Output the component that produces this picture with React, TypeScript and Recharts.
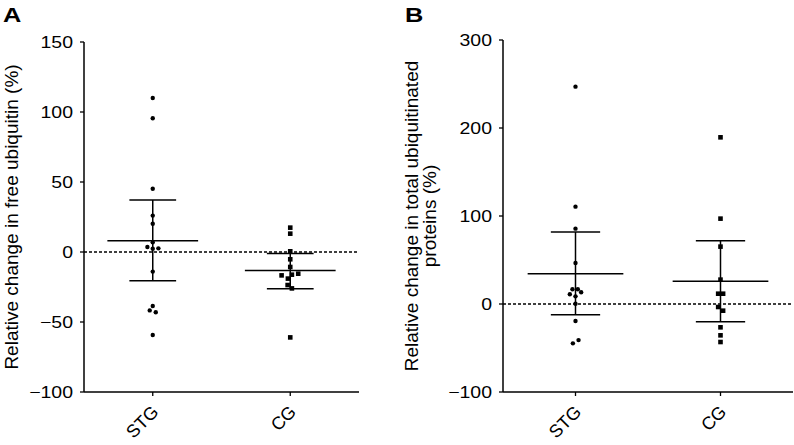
import React from 'react';
import { ScatterChart, Scatter, XAxis, YAxis, ReferenceLine, Label } from 'recharts';

const categories = ['STG', 'CG'];

// Panel A: relative change in free ubiquitin (%)
const freeUbSTG = [110, 95.5, 45.2, 26, 20.2, 6.9, 3.6, 2.4, 2.6, -14, -38.6, -41.7, -43, -59.3];
const freeUbSTGJitter = [0, 0, 0, 0, 0, 0, -0.039, 0, 0.041, 0, 0, -0.022, 0.022, 0];
const freeUbCG = [17.4, 13.1, 0.5, -5.2, -10.7, -16.7, -16.2, -15.5, -19, -23.6, -26, -61];
const freeUbCGJitter = [0, 0, 0, 0, 0, -0.063, 0.012, 0.058, -0.017, -0.019, 0.012, 0];
const freeUbMean = [8.1, -13.3];
const freeUbLow = [-20.5, -26.2];
const freeUbHigh = [37.1, -1];
const freeUbTicks = [-100, -50, 0, 50, 100, 150];

// Panel B: relative change in total ubiquitinated proteins (%)
const totalUbSTG = [247, 110.6, 85.6, 46.6, 16.7, 16.7, 13.3, 11, 8.7, 0.3, -19.3, -41, -44.7];
const totalUbSTGJitter = [0, 0, 0, 0, -0.021, 0.016, 0.039, -0.039, 0, 0, 0, 0.021, -0.018];
const totalUbCG = [189.4, 97, 65.2, 27.7, 11.7, 11.7, -3.4, -7.6, -26.5, -35.6, -43.2];
const totalUbCGJitter = [0, 0, 0, 0, -0.016, 0.018, -0.016, 0.018, 0, 0, 0];
const totalUbMean = [34.4, 25.8];
const totalUbLow = [-12.1, -20.1];
const totalUbHigh = [81.8, 72];
const totalUbTicks = [-100, 0, 100, 200, 300];

const FONT = '"Liberation Sans", Arial, Helvetica, sans-serif';
const INK = '#000';

const toPoints = (vals: number[], jit: number[], cat: number) =>
  vals.map((v, i) => ({ x: cat + 1 + jit[i], y: v }));

const DotShape = (p: any) => <circle cx={p.cx} cy={p.cy} r={2.2} fill={INK} />;
const SquareShape = (p: any) => (
  <rect x={p.cx - 2.3} y={p.cy - 2.3} width={4.6} height={4.6} fill={INK} />
);

const XTick = (p: any) => {
  const { x, y, payload } = p;
  const ax = x + 7;
  const ay = y + 17;
  return (
    <text
      x={ax}
      y={ay}
      transform={`rotate(-45, ${ax}, ${ay})`}
      textAnchor="end"
      fontSize={18}
      fontFamily={FONT}
      fill={INK}
    >
      {categories[Math.round(payload.value) - 1]}
    </text>
  );
};

const YTick = (p: any) => {
  const { x, y, payload } = p;
  return (
    <g transform={`translate(${x},${y}) scale(1.18,1)`}>
      <text x={0} y={0} dy="0.36em" textAnchor="end" fontSize={16.5} fontFamily={FONT} fill={INK}>
        {String(payload.value).replace('-', '\u2212')}
      </text>
    </g>
  );
};

type PanelProps = {
  letter: string;
  letterX: number;
  left: number;
  width: number;
  yAxisWidth: number;
  rightMargin: number;
  top: number;
  domain: [number, number];
  ticks: number[];
  stg: number[];
  stgJ: number[];
  cg: number[];
  cgJ: number[];
  mean: number[];
  low: number[];
  high: number[];
  titleLines: string[];
  titleX: number[];
};

function Panel(props: PanelProps) {
  const {
    letter, letterX, left, width, yAxisWidth, rightMargin, top, domain, ticks,
    stg, stgJ, cg, cgJ, mean, low, high, titleLines, titleX,
  } = props;
  const height = 445;
  const xAxisH = 53;
  const centerY = top + (height - top - xAxisH) / 2;

  const segs: { key: string; seg: { x: number; y: number }[] }[] = [];
  [0, 1].forEach((c) => {
    const cx = c + 1;
    segs.push({ key: `m${c}`, seg: [{ x: cx - 0.33, y: mean[c] }, { x: cx + 0.33, y: mean[c] }] });
    segs.push({ key: `v${c}`, seg: [{ x: cx, y: low[c] }, { x: cx, y: high[c] }] });
    segs.push({ key: `h${c}`, seg: [{ x: cx - 0.17, y: high[c] }, { x: cx + 0.17, y: high[c] }] });
    segs.push({ key: `l${c}`, seg: [{ x: cx - 0.17, y: low[c] }, { x: cx + 0.17, y: low[c] }] });
  });

  const titleContent = () => (
    <g>
      <g transform={`translate(${letterX},22) scale(1.3,1)`}>
        <text x={0} y={0} fontSize={19.5} fontWeight="bold" fontFamily={FONT} fill={INK}>
          {letter}
        </text>
      </g>
      {titleLines.map((t, i) => (
        <text
          key={i}
          x={titleX[i]}
          y={centerY}
          transform={`rotate(-90, ${titleX[i]}, ${centerY})`}
          textAnchor="middle"
          fontSize={19}
          fontFamily={FONT}
          fill={INK}
        >
          {t}
        </text>
      ))}
    </g>
  );

  return (
    <div style={{ position: 'absolute', left, top: 0 }}>
      <ScatterChart
        width={width}
        height={height}
        margin={{ top, right: rightMargin, bottom: 0, left: 0 }}
      >
        <XAxis
          type="number"
          dataKey="x"
          domain={[0.5, 2.5]}
          ticks={[1, 2]}
          interval={0}
          height={xAxisH}
          axisLine={{ stroke: INK, strokeWidth: 1.5 }}
          tickLine={{ stroke: INK, strokeWidth: 1.3 }}
          tickSize={4}
          tickMargin={0}
          tick={<XTick />}
        />
        <YAxis
          type="number"
          dataKey="y"
          domain={domain}
          ticks={ticks}
          interval={0}
          width={yAxisWidth}
          axisLine={{ stroke: INK, strokeWidth: 1.5 }}
          tickLine={{ stroke: INK, strokeWidth: 1.3 }}
          tickSize={4}
          tickMargin={7}
          tick={<YTick />}
        >
          <Label content={titleContent} />
        </YAxis>
        <ReferenceLine y={0} stroke={INK} strokeWidth={1.3} strokeDasharray="3 2" />
        {segs.map((s) => (
          <ReferenceLine key={s.key} segment={s.seg} stroke={INK} strokeWidth={1.5} />
        ))}
        <Scatter data={toPoints(stg, stgJ, 0)} shape={DotShape} isAnimationActive={false} />
        <Scatter data={toPoints(cg, cgJ, 1)} shape={SquareShape} isAnimationActive={false} />
      </ScatterChart>
    </div>
  );
}

export default function App() {
  return (
    <div
      style={{
        position: 'absolute',
        left: 0,
        top: 0,
        width: 794,
        height: 445,
        background: '#fff',
        overflow: 'hidden',
      }}
    >
      <Panel
        letter="A"
        letterX={3}
        left={0}
        width={380}
        yAxisWidth={84}
        rightMargin={21}
        top={42}
        domain={[-100, 150]}
        ticks={freeUbTicks}
        stg={freeUbSTG}
        stgJ={freeUbSTGJitter}
        cg={freeUbCG}
        cgJ={freeUbCGJitter}
        mean={freeUbMean}
        low={freeUbLow}
        high={freeUbHigh}
        titleLines={['Relative change in free ubiquitin (%)']}
        titleX={[18]}
      />
      <Panel
        letter="B"
        letterX={15}
        left={390}
        width={404}
        yAxisWidth={113}
        rightMargin={1}
        top={40}
        domain={[-100, 300]}
        ticks={totalUbTicks}
        stg={totalUbSTG}
        stgJ={totalUbSTGJitter}
        cg={totalUbCG}
        cgJ={totalUbCGJitter}
        mean={totalUbMean}
        low={totalUbLow}
        high={totalUbHigh}
        titleLines={['Relative change in total ubiquitinated', 'proteins (%)']}
        titleX={[28, 46]}
      />
    </div>
  );
}
